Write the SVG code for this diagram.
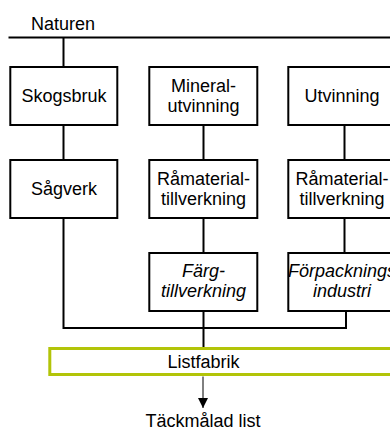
<svg xmlns="http://www.w3.org/2000/svg" width="390" height="430" viewBox="0 0 390 430">
<style>
.box{fill:#fff;stroke:#000;stroke-width:2}
.t{font-family:"Liberation Sans",Arial,sans-serif;font-size:18px;fill:#000;text-anchor:middle}
.i{font-style:italic}
.c{fill:none;stroke:#000;stroke-width:2}
</style>
<defs>
<marker id="ah" markerWidth="10" markerHeight="10" refX="10" refY="5" orient="auto" markerUnits="userSpaceOnUse">
<path d="M0,0 L10,5 L0,10 Z" fill="#000"/>
</marker>
</defs>
<rect width="390" height="430" fill="#fff"/>
<g id="connectors">
<path class="c" d="M8.5,37.5 H391"/>
<path class="c" d="M63.5,37.5 V67"/>
<path class="c" d="M63.5,125 V160"/>
<path class="c" d="M203.5,125 V160"/>
<path class="c" d="M203.5,218 V253"/>
<path class="c" d="M344.5,125 V160"/>
<path class="c" d="M344.5,218 V253"/>
<path class="c" d="M63.5,218 V328 H346 V311"/>
<path class="c" d="M203.5,311 V348"/>
<path d="M203,376.5 V408" stroke="#000" stroke-width="1" fill="none" marker-end="url(#ah)"/>
</g>
<g id="naturen"><text class="t" x="31" y="30" style="text-anchor:start">Naturen</text></g>
<g id="skogsbruk"><rect class="box" x="10.3" y="67" width="107" height="58"/><text class="t" x="64" y="102">Skogsbruk</text></g>
<g id="mineralutvinning"><rect class="box" x="149.3" y="67" width="108" height="58"/><text class="t" x="203.5" y="92">Mineral-</text><text class="t" x="203.5" y="112">utvinning</text></g>
<g id="utvinning"><rect class="box" x="288.3" y="67" width="108" height="58"/><text class="t" x="342" y="102">Utvinning</text></g>
<g id="sagverk"><rect class="box" x="10.3" y="160" width="107" height="58"/><text class="t" x="64" y="195">Sågverk</text></g>
<g id="ramaterial1"><rect class="box" x="149.3" y="160" width="108" height="58"/><text class="t" x="203.5" y="185">Råmaterial-</text><text class="t" x="203.5" y="205">tillverkning</text></g>
<g id="ramaterial2"><rect class="box" x="288.3" y="160" width="108" height="58"/><text class="t" x="342" y="185">Råmaterial-</text><text class="t" x="342" y="205">tillverkning</text></g>
<g id="fargtillverkning"><rect class="box" x="149.3" y="253" width="108" height="58"/><text class="t i" x="203.5" y="277">Färg-</text><text class="t i" x="203.5" y="297">tillverkning</text></g>
<g id="forpackningsindustri"><rect class="box" x="288.3" y="253" width="108" height="58"/><text class="t i" x="342" y="277">Förpacknings</text><text class="t i" x="342" y="297">industri</text></g>
<g id="listfabrik"><rect x="49.8" y="348.5" width="360" height="26" fill="#fff" stroke="#b2c408" stroke-width="3"/><text class="t" x="203.5" y="367.5">Listfabrik</text></g>
<g id="tackmalad"><text class="t" x="203" y="426.5">Täckmålad list</text></g>
</svg>
